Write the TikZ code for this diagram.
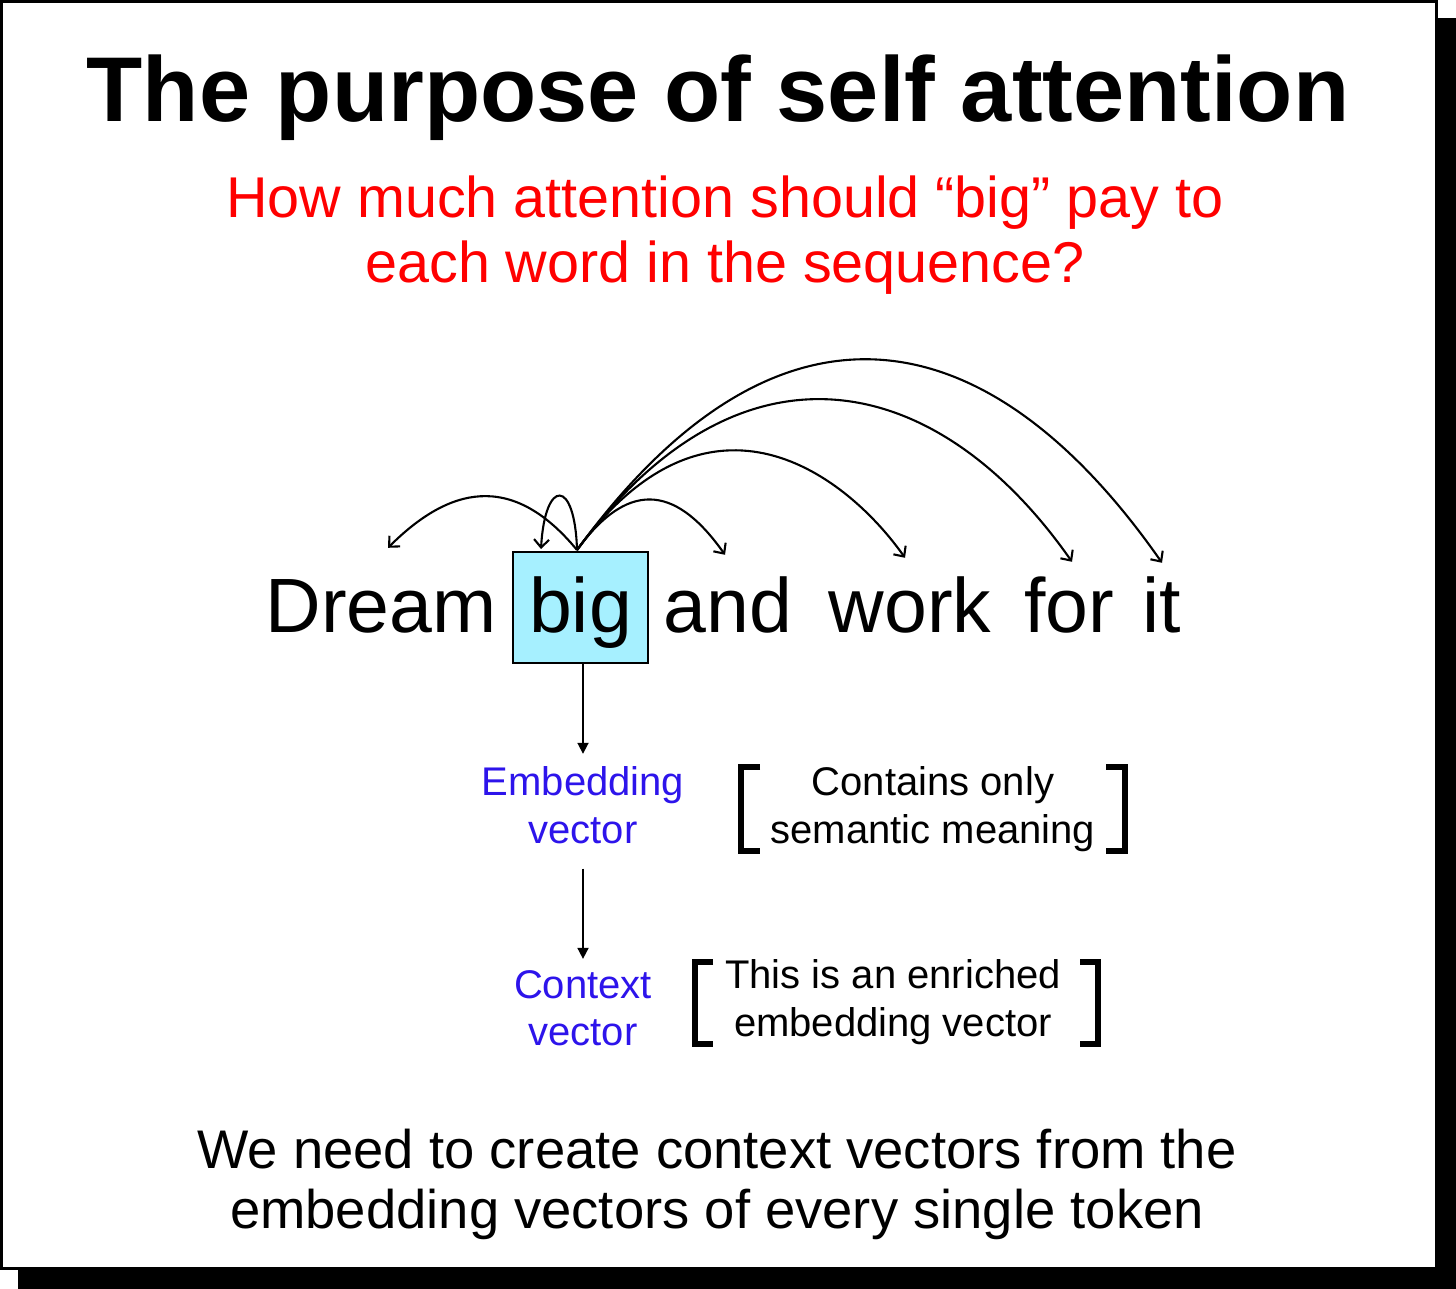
\documentclass[tikz,border=0pt]{standalone}
\usepackage{fontspec}
\setmainfont{Liberation Sans}
\usetikzlibrary{arrows.meta}
\definecolor{vecblue}{RGB}{45,20,235}
\definecolor{bigcyan}{RGB}{166,240,255}
\definecolor{qred}{RGB}{255,0,0}
\tikzset{
  word/.style={inner sep=0pt, anchor=base, text height=80pt, text depth=31pt, font=\fontsize{77}{80}\selectfont},
  attn/.style={line width=2.1pt, -{Straight Barb[length=8pt,width=15pt,line width=2.1pt]}},
  down/.style={line width=1.8pt, -{Triangle[length=11pt,width=11pt]}},
  small/.style={inner sep=0pt, anchor=base, font=\fontsize{40}{48}\selectfont},
  bluetxt/.style={small, text=vecblue},
  brk/.style={line width=6pt},
}
\begin{document}
\begin{tikzpicture}[x=1pt,y=-1pt]
\useasboundingbox (0,0) rectangle (1456,1289);
% frame with shadow
\fill[black] (18,18) rectangle (1456,1289);
\filldraw[fill=white, draw=black, line width=3pt] (1.5,1.5) rectangle (1436,1268);

% title and question
\node[inner sep=0pt, anchor=base, font=\fontsize{92}{100}\bfseries\selectfont] (title) at (718,122) {The purpose of self attention};
\node[inner sep=0pt, anchor=base, text=qred, font=\fontsize{57.5}{65}\selectfont] (q1) at (725,218) {How much attention should “big” pay to};
\node[inner sep=0pt, anchor=base, text=qred, font=\fontsize{57.5}{65}\selectfont] (q2) at (725,283) {each word in the sequence?};

% sentence
\node[word] (dream) at (381,632) {Dream};
\node[word, draw=black, line width=2pt, fill=bigcyan, minimum width=135pt, inner sep=0pt] (big) at (580.5,632) {big};
\node[word] (and) at (728,632) {and};
\node[word] (work) at (910,632) {work};
\node[word] (for) at (1069,632) {for};
\node[word] (it) at (1162,632) {it};

% attention arcs
\coordinate (src) at ([xshift=-3.5pt,yshift=1pt]big.north);
\coordinate (tdream) at ([xshift=7pt,yshift=4pt]dream.north);
\coordinate (tself) at ([xshift=-39.5pt,yshift=2pt]big.north);
\coordinate (tand) at ([xshift=-3pt,yshift=-3pt]and.north);
\coordinate (twork) at ([xshift=-5pt,yshift=-6pt]work.north);
\coordinate (tfor) at ([xshift=3pt,yshift=-10pt]for.north);
\coordinate (tit) at ([xshift=0pt,yshift=-11pt]it.north);
\draw[attn] (src) .. controls (511,470) and (448,488) .. (tdream);
\draw[attn] (src) .. controls (575,478) and (545,478) .. (tself);
\draw[attn] (src) .. controls (632,474) and (680,491) .. (tand);
\draw[attn] (src) .. controls (711,367) and (848,477) .. (twork);
\draw[attn] (src) .. controls (740,327) and (937,369) .. (tfor);
\draw[attn] (src) .. controls (778,274) and (989,315) .. (tit);

% vectors
\node[bluetxt] (emb1) at (583,795) {Embedding};
\node[bluetxt] (emb2) at (583,843) {vector};
\node[bluetxt] (ctx1) at (583,998) {Context};
\node[bluetxt] (ctx2) at (583,1045) {vector};
\draw[down] ([xshift=2.5pt]big.south) -- ([yshift=12pt]emb1.north);
\draw[down] ([yshift=-25pt]emb2.south) -- ([yshift=11pt]ctx1.north);

% bracket notes
\node[small] (n1a) at (933,795) {Contains only};
\node[small] (n1b) at (933,843) {semantic meaning};
\node[small] (n2a) at (893,988) {This is an enriched};
\node[small] (n2b) at (893,1036) {embedding vector};
\draw[brk] (760,767) -- (741,767) -- (741,851) -- (760,851);
\draw[brk] (1106,767) -- (1125,767) -- (1125,851) -- (1106,851);
\draw[brk] (713,962) -- (695,962) -- (695,1044) -- (713,1044);
\draw[brk] (1080,962) -- (1098,962) -- (1098,1044) -- (1080,1044);

% bottom
\node[inner sep=0pt, anchor=base, font=\fontsize{54.4}{60}\selectfont] (b1) at (717,1168) {We need to create context vectors from the};
\node[inner sep=0pt, anchor=base, font=\fontsize{54.4}{60}\selectfont] (b2) at (717,1228) {embedding vectors of every single token};
\end{tikzpicture}
\end{document}
